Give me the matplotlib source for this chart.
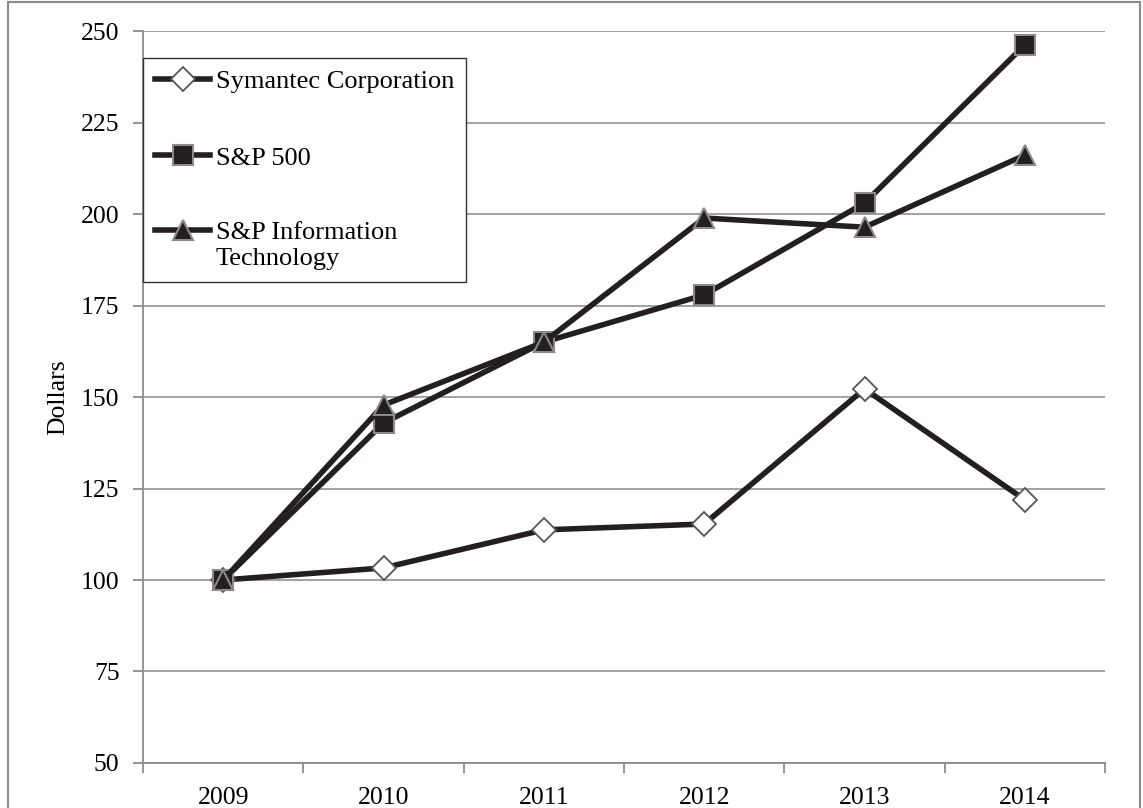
import matplotlib.pyplot as plt
from matplotlib.patches import Rectangle
from matplotlib.legend_handler import HandlerLine2D

# values
years = ['2009', '2010', '2011', '2012', '2013', '2014']
symantec = [100, 103.3, 113.7, 115.3, 152.2, 121.9]
sp500 = [100, 142.9, 165.0, 177.9, 203.0, 246.2]
sp_it = [100, 147.8, 165.0, 198.9, 196.4, 216.1]
labels = ['Symantec Corporation', 'S&P 500', 'S&P Information\nTechnology']
yticks = [50, 75, 100, 125, 150, 175, 200, 225, 250]

plt.rcParams['font.family'] = ['Liberation Serif', 'DejaVu Serif']


# put the legend handle next to the first line of a two line label
class FirstLineHandler(HandlerLine2D):
    def __init__(self, shift=0, **kw):
        super().__init__(**kw)
        self.shift = shift

    def create_artists(self, legend, orig_handle, xdescent, ydescent,
                       width, height, fontsize, trans):
        return super().create_artists(legend, orig_handle, xdescent,
                                      ydescent - 2 * self.shift,
                                      width, height, fontsize, trans)


fig = plt.figure(figsize=(11.43, 8.08), dpi=100)
ax = fig.add_axes([0.1251, 0.0557, 0.8417, 0.9059])

# outer frame of the chart
fig.patches.append(Rectangle((0.007, -0.01), 0.99, 1.007, transform=fig.transFigure,
                             fill=False, edgecolor='#8c8c8c', linewidth=1.5))

line_col = '#231f20'
edge_col = '#8a8a8a'
lw = 4.0
x = list(range(len(years)))

l1, = ax.plot(x, symantec, color=line_col, lw=lw, marker='D', markersize=12.5,
              markerfacecolor='white', markeredgecolor='#555555', markeredgewidth=1.3,
              label=labels[0], zorder=3)
l2, = ax.plot(x, sp500, color=line_col, lw=lw, marker='s', markersize=14,
              markerfacecolor=line_col, markeredgecolor=edge_col, markeredgewidth=1.5,
              label=labels[1], zorder=3)
l3, = ax.plot(x, sp_it, color=line_col, lw=lw, marker='^', markersize=15,
              markerfacecolor=line_col, markeredgecolor=edge_col, markeredgewidth=1.5,
              label=labels[2], zorder=3)

ax.set_xlim(-0.5, len(years) - 0.5)
ax.set_ylim(50, 250)
ax.set_yticks(yticks)
ax.set_xticks(x)
ax.set_xticklabels(years)
ax.set_xticks([i + 0.5 for i in range(-1, len(years))], minor=True)
ax.tick_params(axis='x', which='major', length=0, pad=17, labelsize=18.5)
ax.tick_params(axis='x', which='minor', length=7, width=1.3, color='#8c8c8c', direction='out')
ax.tick_params(axis='y', length=7, width=1.3, color='#8c8c8c', labelsize=18.5, pad=10)
ax.grid(axis='y', color='#9a9a9a', lw=1.3)
ax.set_axisbelow(True)

for s in ['top', 'right']:
    ax.spines[s].set_visible(False)
for s in ['left', 'bottom']:
    ax.spines[s].set_color('#8c8c8c')
    ax.spines[s].set_linewidth(1.3)

ax.set_ylabel('Dollars', fontsize=18.5, labelpad=8)

leg = ax.legend(loc='upper left', bbox_to_anchor=(0.0, 0.963), fontsize=19,
                fancybox=False, framealpha=1, edgecolor='#333333',
                handlelength=2.1, handletextpad=0.2, labelspacing=2.0,
                borderpad=0.45, borderaxespad=0,
                handler_map={l3: FirstLineHandler(shift=11)})
leg.get_frame().set_linewidth(1.0)

fig.savefig('out.png', dpi=100)
